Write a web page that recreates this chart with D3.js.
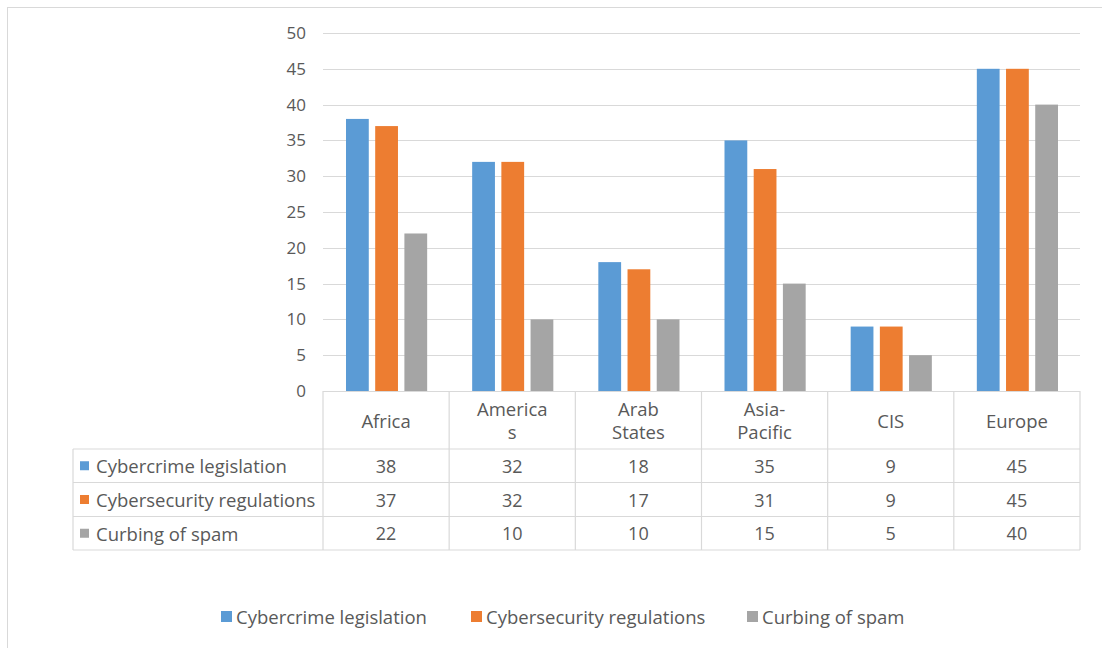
<!DOCTYPE html>
<html>
<head>
<meta charset="utf-8">
<script src="https://cdn.jsdelivr.net/npm/d3@7"></script>
<style>
  html, body { margin: 0; padding: 0; background: #fff; }
  svg text { font-family: "Open Sans", "Liberation Sans", sans-serif; fill: #595959; }
</style>
</head>
<body>
<svg id="chart" width="1102" height="648"></svg>
<script>
// Regions and their label lines in the table header
const regions = ["Africa", "Americas", "Arab States", "Asia-Pacific", "CIS", "Europe"];
const regionLines = [["Africa"], ["America", "s"], ["Arab", "States"], ["Asia-", "Pacific"], ["CIS"], ["Europe"]];

// Series
const seriesNames = ["Cybercrime legislation", "Cybersecurity regulations", "Curbing of spam"];
const cybercrime = [38, 32, 18, 35, 9, 45];
const cybersecurity = [37, 32, 17, 31, 9, 45];
const spam = [22, 10, 10, 15, 5, 40];
const seriesColors = ["#5B9BD5", "#ED7D31", "#A5A5A5"];

const yTicks = [0, 5, 10, 15, 20, 25, 30, 35, 40, 45, 50];

const seriesValues = [cybercrime, cybersecurity, spam];
const svg = d3.select("#chart");

// outer frame
svg.append("rect").attr("x", 7.5).attr("y", 7.5).attr("width", 1110).attr("height", 660)
  .attr("fill", "none").attr("stroke", "#D9D9D9").attr("stroke-width", 1);

const plotLeft = 323, plotRight = 1080, plotTop = 33, plotBottom = 391;

const x0 = d3.scaleBand().domain(regions).range([plotLeft, plotRight]).padding(0);
const bw = x0.bandwidth();
const x1 = d3.scaleBand().domain(seriesNames).range([23, bw - 22]).paddingInner(0.22).paddingOuter(0);
const y = d3.scaleLinear().domain([0, 50]).range([plotBottom, plotTop]);

// gridlines
svg.append("g").selectAll("line").data(yTicks.filter(t => t > 0)).join("line")
  .attr("x1", plotLeft).attr("x2", plotRight)
  .attr("y1", d => Math.round(y(d)) + 0.5).attr("y2", d => Math.round(y(d)) + 0.5)
  .attr("stroke", "#D9D9D9").attr("stroke-width", 1.2);

// y axis labels
const yAxis = d3.axisLeft(y).tickValues(yTicks).tickSize(0).tickPadding(0);
const yg = svg.append("g").attr("transform", `translate(306,0)`).call(yAxis);
yg.select(".domain").remove();
yg.selectAll("text").attr("font-size", 17).attr("fill", "#595959")
  .style("font-family", '"Open Sans", sans-serif');

// bars
const groups = svg.append("g").selectAll("g").data(regions).join("g")
  .attr("transform", d => `translate(${x0(d)},0)`);
groups.selectAll("rect")
  .data((r, i) => seriesNames.map((s, k) => ({ s, k, v: seriesValues[k][i] })))
  .join("rect")
  .attr("x", d => x1(d.s))
  .attr("width", x1.bandwidth())
  .attr("y", d => y(d.v))
  .attr("height", d => y(0) - y(d.v))
  .attr("fill", d => seriesColors[d.k]);

// data table
const tableLeft = 73;
const rowEdges = [plotBottom, 449, 482.5, 516.5, 550];
const tg = svg.append("g");
const gridStroke = "#D9D9D9";

// horizontal lines
tg.append("line").attr("x1", plotLeft).attr("x2", plotRight).attr("y1", plotBottom + 0.5).attr("y2", plotBottom + 0.5)
  .attr("stroke", gridStroke).attr("stroke-width", 1.2);
rowEdges.slice(1).forEach(yy => {
  tg.append("line").attr("x1", tableLeft).attr("x2", plotRight).attr("y1", yy).attr("y2", yy)
    .attr("stroke", gridStroke).attr("stroke-width", 1.2);
});
// vertical lines
const colEdges = regions.map(r => x0(r)).concat([plotRight]);
colEdges.forEach(xx => {
  tg.append("line").attr("x1", xx).attr("x2", xx).attr("y1", plotBottom).attr("y2", rowEdges[4])
    .attr("stroke", gridStroke).attr("stroke-width", 1.2);
});
tg.append("line").attr("x1", tableLeft).attr("x2", tableLeft).attr("y1", rowEdges[1]).attr("y2", rowEdges[4])
  .attr("stroke", gridStroke).attr("stroke-width", 1.2);

// header labels
regions.forEach((r, i) => {
  const lines = regionLines[i];
  const cx = x0(r) + bw / 2;
  const cy = (rowEdges[0] + rowEdges[1]) / 2;
  const lh = 23;
  lines.forEach((ln, j) => {
    tg.append("text").attr("x", cx).attr("y", cy + (j - (lines.length - 1) / 2) * lh)
      .attr("text-anchor", "middle").attr("dominant-baseline", "central")
      .attr("font-size", 18.5).text(ln);
  });
});

// series rows
seriesNames.forEach((s, k) => {
  const cy = (rowEdges[k + 1] + rowEdges[k + 2]) / 2;
  tg.append("rect").attr("x", 80).attr("y", cy - 4.5).attr("width", 9).attr("height", 9).attr("fill", seriesColors[k]);
  tg.append("text").attr("x", 96).attr("y", cy).attr("dominant-baseline", "central")
    .attr("font-size", 18.5).text(s);
  regions.forEach((r, i) => {
    tg.append("text").attr("x", x0(r) + bw / 2).attr("y", cy).attr("text-anchor", "middle")
      .attr("dominant-baseline", "central").attr("font-size", 18).text(seriesValues[k][i]);
  });
});

// bottom legend
const legendX = [221, 471, 747];
const lg = svg.append("g");
seriesNames.forEach((s, k) => {
  lg.append("rect").attr("x", legendX[k]).attr("y", 611).attr("width", 11).attr("height", 11).attr("fill", seriesColors[k]);
  lg.append("text").attr("x", legendX[k] + 15).attr("y", 616.5).attr("dominant-baseline", "central")
    .attr("font-size", 18.5).text(s);
});
</script>
</body>
</html>
